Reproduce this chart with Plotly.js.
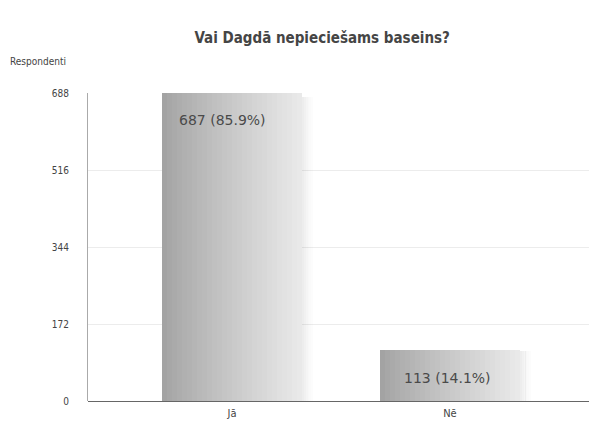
<!DOCTYPE html>
<html>
<head>
<meta charset="utf-8">
<script src="https://cdn.plot.ly/plotly-3.0.1.min.js"></script>
<style>html,body{margin:0;padding:0;background:#fff;}#chart{width:589px;height:422px;}</style>
</head>
<body>
<div id="chart"></div>
<script>
const categories = ['Jā', 'Nē'];
const values = [687, 113];
const valueLabels = ['687 (85.9%)', '113 (14.1%)'];
const yTickValues = [0, 172, 344, 516, 688];
const titleText = 'Vai Dagdā nepieciešams baseins?';
const yAxisLabel = 'Respondenti';

const xIdx = categories.map((c, i) => i);
const barW = 0.642;
const N = 28;
const traces = [];

function mix(a, b, t) { return Math.round(a + (b - a) * t); }

// soft shadow to the right of each bar
const shadowAlpha = [0.07, 0.055, 0.04, 0.028, 0.018, 0.01];
const shStep = 0.0085;
shadowAlpha.forEach((a, s) => {
  traces.push({
    type: 'bar', x: xIdx, y: values.map(v => v * 0.99),
    width: shStep * 1.05, offset: barW / 2 + s * shStep,
    marker: { color: `rgba(0,0,0,${a})`, line: { width: 0 } },
    hoverinfo: 'skip', showlegend: false
  });
});

for (let k = 0; k < N; k++) {
  const t = k / (N - 1);
  const g = mix(163, 233, Math.pow(t, 0.9));
  const sw = barW / N;
  traces.push({
    type: 'bar', x: xIdx, y: values,
    width: k < N - 1 ? sw * 1.6 : sw,
    offset: -barW / 2 + k * sw,
    marker: { color: `rgb(${g},${g},${g})`, line: { width: 0 } },
    hoverinfo: 'skip', showlegend: false
  });
}

const labelFont = { family: 'DejaVu Sans', size: 14, color: '#4a4a4a' };
const annotations = [
  {
    x: xIdx[0] - barW / 2, y: values[0], xref: 'x', yref: 'y',
    xanchor: 'left', yanchor: 'top', xshift: 15, yshift: -17,
    text: valueLabels[0], showarrow: false, font: labelFont
  },
  {
    x: xIdx[1], y: values[1] / 2, xref: 'x', yref: 'y',
    xanchor: 'center', yanchor: 'middle', yshift: -2, xshift: -2,
    text: valueLabels[1], showarrow: false, font: labelFont
  },
  {
    x: 0, y: 1, xref: 'paper', yref: 'paper', xanchor: 'left', yanchor: 'bottom',
    xshift: -80, yshift: 24, text: yAxisLabel, showarrow: false,
    font: { family: 'DejaVu Sans Condensed', size: 10, color: '#444' }
  }
];

const layout = {
  width: 589, height: 422,
  margin: { l: 88, r: 0, t: 93, b: 21 },
  paper_bgcolor: '#fff', plot_bgcolor: '#fff',
  barmode: 'overlay',
  bargap: 0,
  title: {
    text: '<b>' + titleText + '</b>',
    x: 0.547, xanchor: 'center', y: 0.91, yanchor: 'middle',
    font: { family: 'DejaVu Sans Condensed', size: 15, color: '#454545' }
  },
  xaxis: {
    range: [-0.6606, 1.638], tickvals: xIdx, ticktext: categories,
    showgrid: false, zeroline: false, showline: false, ticks: '',
    ticklabelstandoff: 4,
    tickfont: { family: 'DejaVu Sans Condensed', size: 11, color: '#444' },
    fixedrange: true
  },
  yaxis: {
    range: [0, 688], tickvals: yTickValues, ticktext: yTickValues.map(String),
    showgrid: true, gridcolor: '#ececec', gridwidth: 1,
    zeroline: true, zerolinecolor: '#666', zerolinewidth: 1,
    showline: true, linecolor: '#aaa', linewidth: 1,
    ticks: '', ticklabelstandoff: 16,
    tickfont: { family: 'DejaVu Sans Condensed', size: 10, color: '#444' },
    fixedrange: true
  },
  annotations: annotations,
  showlegend: false
};

Plotly.newPlot('chart', traces, layout, { displayModeBar: false, staticPlot: true });
</script>
</body>
</html>
